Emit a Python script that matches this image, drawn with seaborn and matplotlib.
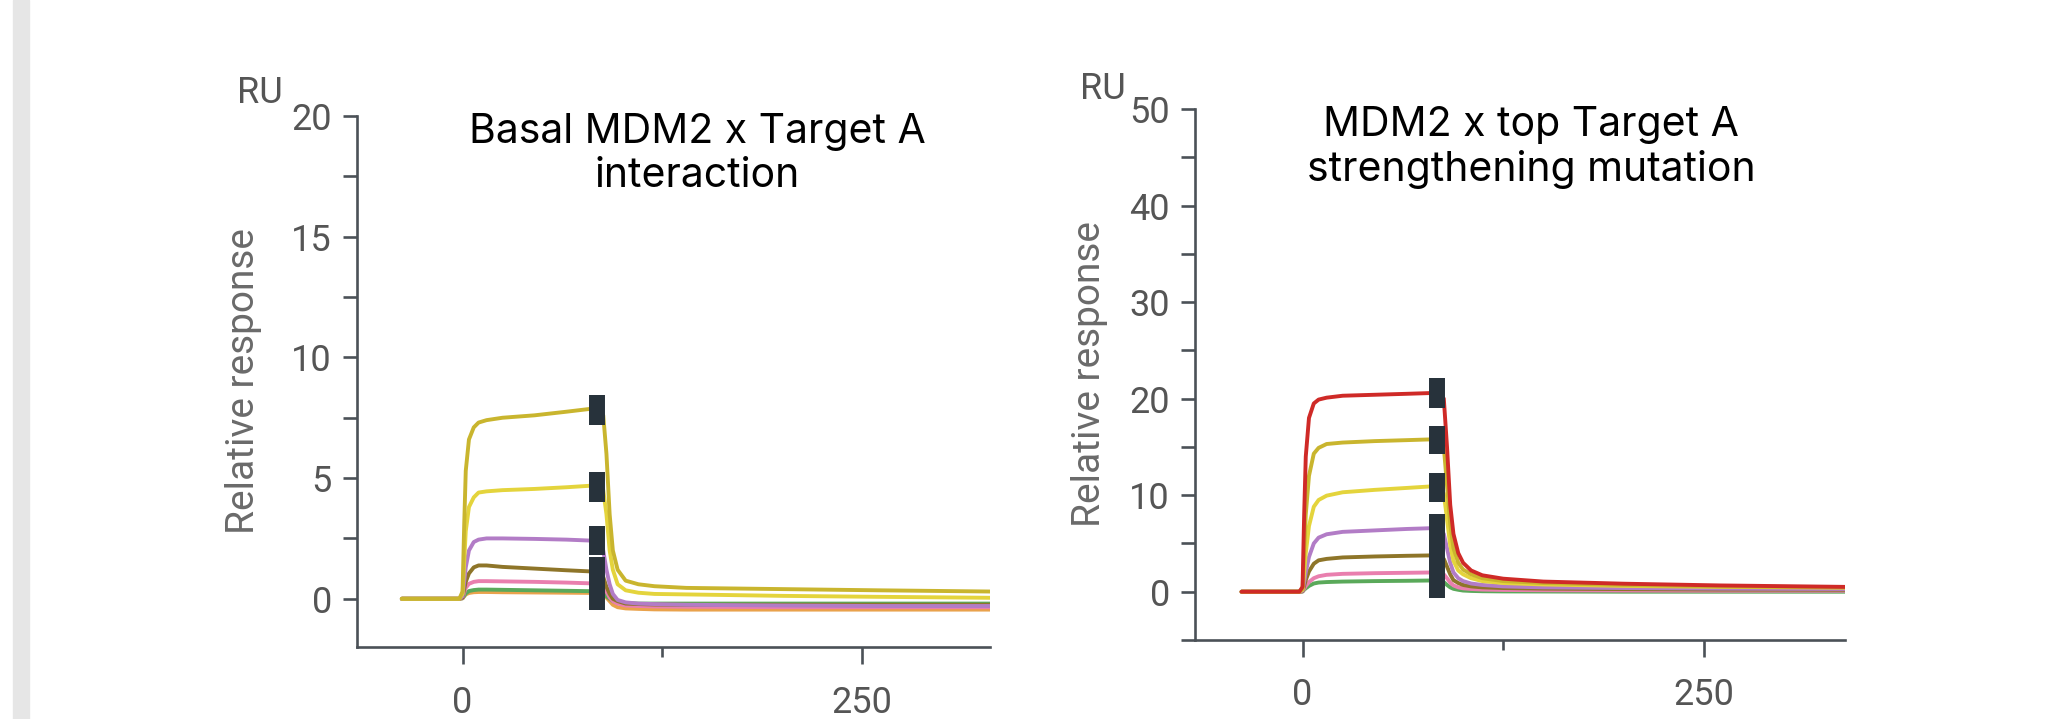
import pandas as pd
import seaborn as sns
import matplotlib.pyplot as plt
from matplotlib.patches import Rectangle
from matplotlib.ticker import MultipleLocator

# time points (s)
time_left = [-38, -2, 0, 1, 2, 4, 7, 10, 15, 25, 45, 65, 84,
             88, 90, 92, 94, 97, 102, 110, 120, 140, 200, 260, 330]
time_right = [-38, -2, 0, 1, 2, 4, 7, 10, 15, 25, 45, 65, 84,
              88, 90, 92, 94, 97, 100, 105, 112, 125, 150, 200, 260, 338]

# left panel: basal MDM2 x Target A (RU), one list per concentration
left_olive = [0, 0, 0.3, 3.0, 5.3, 6.6, 7.1, 7.3, 7.4, 7.5, 7.6, 7.75, 7.9,
              7.6, 6.0, 3.5, 2.0, 1.2, 0.75, 0.6, 0.52, 0.45, 0.4, 0.35, 0.3]
left_yellow = [0, 0, 0.2, 1.5, 2.8, 3.8, 4.2, 4.4, 4.45, 4.5, 4.55, 4.62, 4.7,
               4.5, 3.5, 2.0, 1.2, 0.6, 0.35, 0.25, 0.2, 0.18, 0.12, 0.08, 0.04]
left_purple = [0, 0, 0.1, 0.7, 1.3, 2.0, 2.35, 2.45, 2.5, 2.5, 2.48, 2.45, 2.4,
               2.0, 1.2, 0.6, 0.2, -0.05, -0.15, -0.2, -0.22, -0.25, -0.28, -0.3, -0.3]
left_brown = [0, 0, 0.05, 0.4, 0.7, 1.05, 1.3, 1.38, 1.38, 1.32, 1.25, 1.18, 1.12,
              0.9, 0.5, 0.2, 0.0, -0.1, -0.2, -0.22, -0.24, -0.25, -0.25, -0.25, -0.25]
left_pink = [0, 0, 0.03, 0.25, 0.45, 0.62, 0.7, 0.73, 0.73, 0.72, 0.7, 0.67, 0.63,
             0.5, 0.3, 0.05, -0.1, -0.2, -0.28, -0.3, -0.32, -0.33, -0.35, -0.35, -0.35]
left_green = [0, 0, 0.02, 0.12, 0.22, 0.32, 0.36, 0.38, 0.38, 0.37, 0.35, 0.33, 0.31,
              0.25, 0.1, 0.0, -0.1, -0.15, -0.18, -0.2, -0.2, -0.2, -0.2, -0.2, -0.2]
left_orange = [0, 0, 0.02, 0.1, 0.18, 0.24, 0.27, 0.28, 0.28, 0.27, 0.26, 0.25, 0.24,
               0.18, 0.05, -0.1, -0.25, -0.35, -0.4, -0.42, -0.44, -0.45, -0.45, -0.45, -0.45]

# right panel: MDM2 x top strengthening mutation (RU)
right_red = [0, 0, 0.5, 8, 14, 18, 19.5, 19.9, 20.1, 20.3, 20.4, 20.5, 20.6,
             20.0, 15.0, 9.0, 6.0, 4.0, 3.0, 2.2, 1.7, 1.35, 1.05, 0.83, 0.65, 0.5]
right_olive = [0, 0, 0.3, 4, 8, 12, 14.3, 14.9, 15.3, 15.45, 15.6, 15.7, 15.8,
               15.0, 11.0, 7.0, 4.5, 3.0, 2.3, 1.8, 1.4, 1.1, 0.9, 0.7, 0.55, 0.45]
right_yellow = [0, 0, 0.2, 2, 4, 6.8, 8.8, 9.5, 9.95, 10.3, 10.55, 10.75, 10.95,
                10.2, 7.5, 4.8, 3.2, 2.2, 1.8, 1.4, 1.1, 0.9, 0.75, 0.6, 0.5, 0.42]
right_purple = [0, 0, 0.1, 1, 2, 3.6, 5.0, 5.6, 5.95, 6.2, 6.35, 6.5, 6.6,
                6.0, 4.5, 3.0, 2.0, 1.4, 1.1, 0.85, 0.7, 0.55, 0.45, 0.38, 0.32, 0.28]
right_brown = [0, 0, 0.05, 0.6, 1.2, 2.1, 2.9, 3.25, 3.4, 3.55, 3.65, 3.72, 3.77,
               3.4, 2.6, 1.8, 1.2, 0.9, 0.7, 0.55, 0.45, 0.38, 0.32, 0.27, 0.22, 0.2]
right_pink = [0, 0, 0.03, 0.3, 0.6, 1.0, 1.4, 1.6, 1.75, 1.85, 1.92, 1.96, 2.0,
              1.8, 1.4, 0.95, 0.65, 0.45, 0.35, 0.28, 0.22, 0.18, 0.15, 0.12, 0.1, 0.1]
right_green = [0, 0, 0.02, 0.2, 0.35, 0.6, 0.85, 0.95, 1.0, 1.05, 1.1, 1.13, 1.17,
               1.0, 0.7, 0.45, 0.3, 0.2, 0.12, 0.08, 0.05, 0.03, 0.02, 0.0, 0.0, 0.0]

# end of injection markers (dashed black bar, RU ranges)
marker_time = 84
marker_left_lo = [7.2, 4.0, 1.8, -0.45]
marker_left_hi = [8.45, 5.25, 3.0, 1.75]
marker_right_lo = [19.0, 14.3, 9.3, -0.6]
marker_right_hi = [22.1, 17.2, 12.3, 8.1]

title_left = ["Basal MDM2 x Target A", "interaction"]
title_right = ["MDM2 x top Target A", "strengthening mutation"]

colors = {"olive": "#c9b52e", "yellow": "#e4d43c", "purple": "#b27cc6",
          "brown": "#8e7529", "pink": "#e97fae", "green": "#5aa95a",
          "orange": "#e9a24c", "red": "#cf2a27"}
spine_color = "#4b5157"
tick_text = "#555555"


def to_long(time, curves):
    '''stack the named curves into one long dataframe for seaborn'''
    frames = [pd.DataFrame({"time": time, "response": vals, "curve": name})
              for name, vals in curves.items()]
    return pd.concat(frames, ignore_index=True)


def style_axes(ax, ylim, xlim, major, minor):
    ax.set_xlim(*xlim)
    ax.set_ylim(*ylim)
    ax.set_xticks([0, 250])
    ax.xaxis.set_minor_locator(MultipleLocator(125))
    ax.yaxis.set_major_locator(MultipleLocator(major))
    ax.yaxis.set_minor_locator(MultipleLocator(minor))
    sns.despine(ax=ax)
    for side in ["left", "bottom"]:
        ax.spines[side].set_color(spine_color)
        ax.spines[side].set_linewidth(1.9)
    ax.tick_params(axis="y", which="both", length=10, width=1.9, color=spine_color,
                   labelsize=26, labelcolor=tick_text, pad=8)
    ax.tick_params(axis="x", which="major", length=12, width=1.9, color=spine_color,
                   labelsize=26, labelcolor=tick_text, pad=15)
    ax.tick_params(axis="x", which="minor", length=7, width=1.9, color=spine_color)
    ax.set_xlabel("")
    ax.set_ylabel("Relative response", fontsize=28, color="#6a6a6a")


sns.set_style("ticks")
plt.rcParams["font.family"] = ["Roboto", "DejaVu Sans"]

fig = plt.figure(figsize=(20.65, 7.19), dpi=100)
fig.patches.append(Rectangle((13 / 2065, 0), 16 / 2065, 1, transform=fig.transFigure,
                             color="#e6e6e6", zorder=0))

ax1 = fig.add_axes([0.1729, 0.1001, 0.3066, 0.7385])
ax2 = fig.add_axes([0.5787, 0.1099, 0.3148, 0.7385])

left_df = to_long(time_left, {"orange": left_orange, "green": left_green, "pink": left_pink,
                              "brown": left_brown, "purple": left_purple,
                              "yellow": left_yellow, "olive": left_olive})
right_df = to_long(time_right, {"green": right_green, "pink": right_pink, "brown": right_brown,
                                "purple": right_purple, "yellow": right_yellow,
                                "olive": right_olive, "red": right_red})

sns.lineplot(data=left_df, x="time", y="response", hue="curve", palette=colors,
             estimator=None, sort=False, linewidth=2.8, legend=False, ax=ax1)
sns.lineplot(data=right_df, x="time", y="response", hue="curve", palette=colors,
             estimator=None, sort=False, linewidth=2.8, legend=False, ax=ax2)

ax1.vlines([marker_time] * 4, marker_left_lo, marker_left_hi, color="#27323b",
           linewidth=11.5, zorder=5)
ax2.vlines([marker_time] * 4, marker_right_lo, marker_right_hi, color="#27323b",
           linewidth=11.5, zorder=5)

style_axes(ax1, (-2, 20), (-66, 330), 5, 2.5)
style_axes(ax2, (-5, 50), (-67, 338), 10, 5)
ax1.yaxis.set_label_coords(-0.150, 0.5)
ax2.yaxis.set_label_coords(-0.134, 0.5)

ax1.text(-0.19, 1.0245, "RU", transform=ax1.transAxes, fontsize=26,
         color=tick_text, ha="left", va="baseline")
ax2.text(-0.177, 1.019, "RU", transform=ax2.transAxes, fontsize=26,
         color=tick_text, ha="left", va="baseline")

# panel titles, two lines each
for x, lines, base in [(697, title_left, [143, 187]), (1531, title_right, [136, 181])]:
    for line, y in zip(lines, base):
        fig.text(x / 2065, 1 - y / 719, line, ha="center", va="baseline",
                 fontsize=29.5, family=["Inter", "DejaVu Sans"], color="black")

plt.savefig("out.png", dpi=100)
